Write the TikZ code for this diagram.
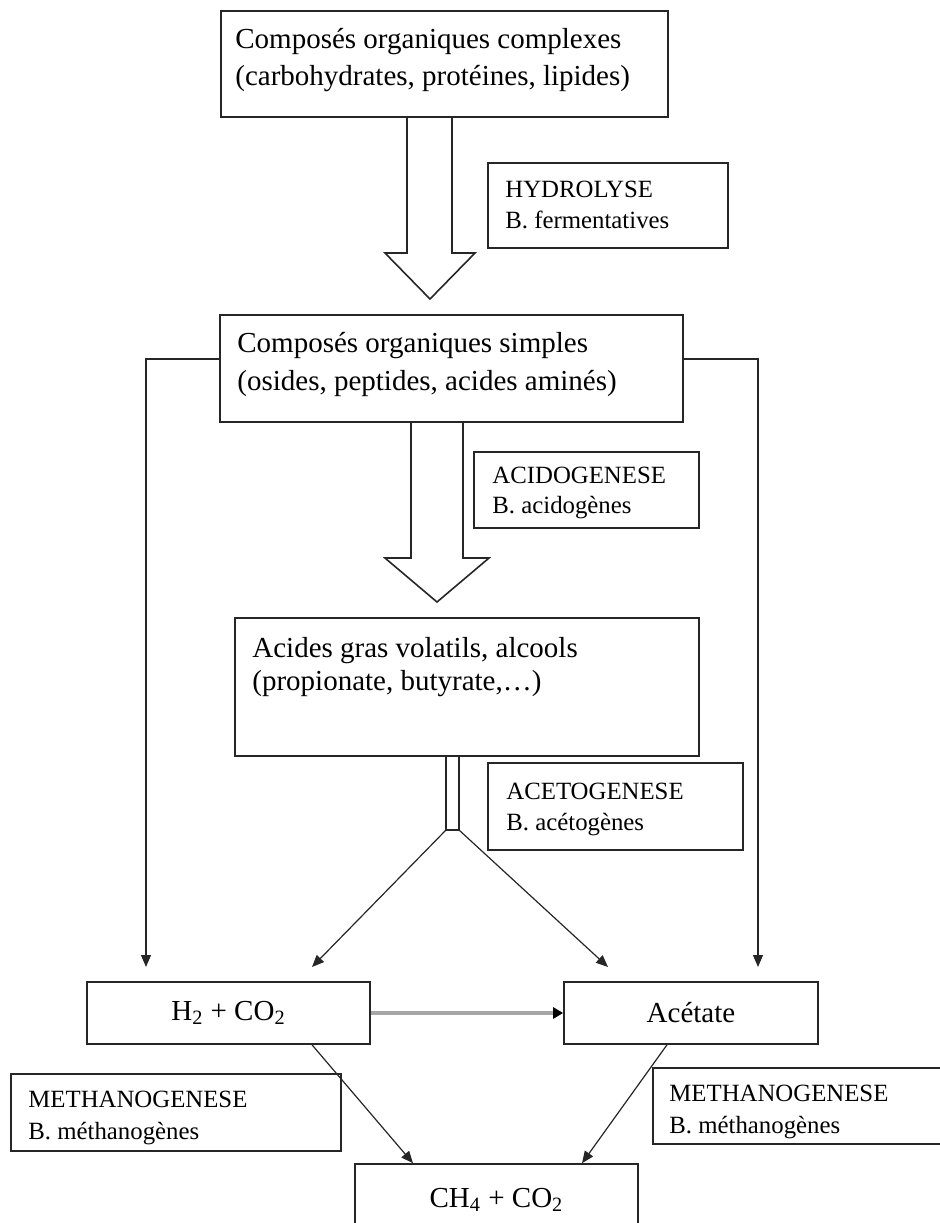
\documentclass[tikz,border=0pt]{standalone}
\usepackage{fontspec}
\setmainfont{Liberation Serif}
\usetikzlibrary{arrows.meta,calc}
\tikzset{
	boite/.style={draw=black!85, line width=0.8pt, inner sep=0pt, font=\fontsize{14.5}{17}\selectfont},
	texte/.style={anchor=base west, align=left, inner sep=0pt},
	etiq/.style={anchor=base west, align=left, inner sep=0pt},
	fleche/.style={draw=black!85, line width=0.6pt, -{Triangle[length=6pt,width=5pt]}},
	creux/.style={draw=black!85, line width=0.8pt, line join=miter},
}
\begin{document}
\begin{tikzpicture}[x=0.5pt, y=-0.5pt]
	\useasboundingbox (0,0) rectangle (940,1223);
	\clip (0,0) rectangle (940,1223);
	% Boites principales (texte : base de la derniere ligne)
	\node[boite, minimum width=223.5pt, minimum height=53pt] (complexes) at (444.5,64) {};
	\node[texte, font=\fontsize{14.5}{18.5}\selectfont] (tcomplexes) at (235,85)
		{Composés organiques complexes\\(carbohydrates, protéines, lipides)};
	\node[boite, minimum width=231.5pt, minimum height=53.5pt] (simples) at (451.5,368.5) {};
	\node[texte, font=\fontsize{14.5}{19}\selectfont] (tsimples) at (237,390)
		{Composés organiques simples\\(osides, peptides, acides aminés)};
	\node[boite, minimum width=232pt, minimum height=69pt] (acides) at (467,687) {};
	\node[texte, font=\fontsize{14.5}{16.5}\selectfont] (tacides) at (252,690)
		{Acides gras volatils, alcools\\(propionate, butyrate,…)};
	\node[boite, minimum width=141.5pt, minimum height=31pt] (h2) at (228.5,1013)
		{H\textsubscript{2} + CO\textsubscript{2}};
	\node[boite, minimum width=127pt, minimum height=31pt] (acetate) at (691,1013) {Acétate};
	\node[boite, minimum width=141.5pt, minimum height=48pt, text height=10.5pt, text depth=15.5pt] (ch4) at (496.5,1212)
		{CH\textsubscript{4} + CO\textsubscript{2}};

	% Etapes
	\node[boite, minimum width=120pt, minimum height=42.5pt] (hydro) at (608,205.5) {};
	\node[etiq, font=\fontsize{12.4}{15.5}\selectfont] (thydro) at (505,228) {HYDROLYSE\\B. fermentatives};
	\node[boite, minimum width=112.5pt, minimum height=38pt] (acido) at (586.5,490) {};
	\node[etiq, font=\fontsize{12.4}{15}\selectfont] (tacido) at (492,513) {ACIDOGENESE\\B. acidogènes};
	\node[boite, minimum width=127.5pt, minimum height=43.5pt] (aceto) at (615.5,806.5) {};
	\node[etiq, font=\fontsize{12.4}{15.5}\selectfont] (taceto) at (506,830) {ACETOGENESE\\B. acétogènes};
	\node[boite, minimum width=165pt, minimum height=38.5pt] (methg) at (176,1112.5) {};
	\node[etiq, font=\fontsize{12.4}{16}\selectfont] (tmethg) at (28,1139) {METHANOGENESE\\B. méthanogènes};
	\node[boite, minimum width=163.5pt, minimum height=38pt] (methd) at (816.5,1106) {};
	\node[etiq, font=\fontsize{12.4}{16}\selectfont] (tmethd) at (669,1133) {METHANOGENESE\\B. méthanogènes};

	% Grosses fleches creuses
	\draw[creux] (407,117) -- (407,253) -- (385,253) -- (430,299) -- (475,253) -- (452,253) -- (452,117);
	\draw[creux] (411,422) -- (411,558) -- (385,558) -- (437,602) -- (489,558) -- (463,558) -- (463,422);
	\draw[creux] (446,756) -- (446,830) -- (459,830) -- (459,756);

	% Fleches
	\coordinate (gauche) at (146,967);
	\coordinate (droite) at (758,967);
	\coordinate (tubeg) at (446,830);
	\coordinate (tubed) at (459,830);
	\coordinate (h2in) at (312,967);
	\coordinate (acin) at (608,967);
	\draw[fleche] ([yshift=4.75pt]simples.west) -| (gauche);
	\draw[fleche] ([yshift=4.75pt]simples.east) -| (droite);
	\draw[fleche] (tubeg) -- (h2in);
	\draw[fleche] (tubed) -- (acin);
	\draw[fleche, draw=black!35, line width=1.6pt, -{Triangle[length=5pt,width=5.5pt,color=black]}] (h2.east) -- (acetate.west);
	\draw[fleche] ([xshift=41.75pt]h2.south) -- ([xshift=-41.75pt]ch4.north);
	\draw[fleche] ([xshift=-12pt]acetate.south) -- ([xshift=42.75pt]ch4.north);
\end{tikzpicture}
\end{document}
